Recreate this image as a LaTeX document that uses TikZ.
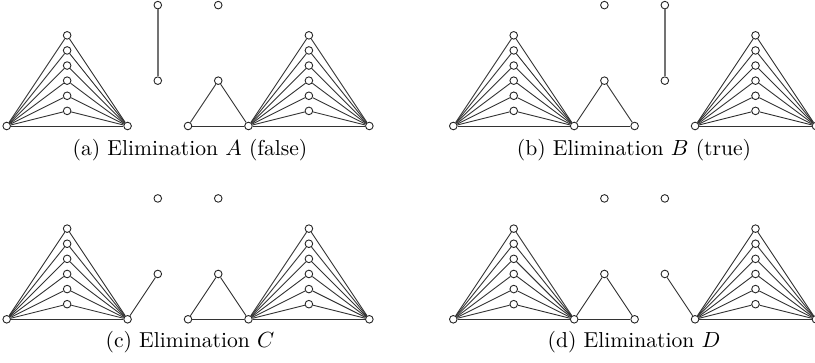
\documentclass[tikz,border=0pt]{standalone}
\usetikzlibrary{calc}
\begin{document}
\begin{tikzpicture}[x=0.5pt,y=-0.5pt,
  v/.style={circle,draw=black!85,fill=white,line width=0.45pt,inner sep=0pt,minimum size=3.8pt},
  e/.style={draw=black!80,line width=0.45pt},
  ge/.style={draw=black!55,line width=0.75pt},
  captext/.style={anchor=base,inner sep=0pt,font=\fontsize{10.8}{12}\selectfont}]
\useasboundingbox (0,0) rectangle (815,363);
\def\u{15.11}
% big triangle macro: #1 name, #2 x0, #3 y0
\newcommand\bigtri[3]{%
  \node[v] (#1l) at (#2,#3) {};
  \node[v] (#1r) at ({#2+8*\u},#3) {};
  \foreach \k in {1,...,6}{\node[v] (#1\k) at ({#2+4*\u},{#3-\k*\u}) {};}
  \draw[e] (#1l) -- (#1r);
  \foreach \k in {1,...,6}{\draw[e] (#1l) -- (#1\k) -- (#1r);}
}
% ---------- (a) ----------
\def\X{6.7}\def\Y{126}
\bigtri{aL}{\X}{\Y}
\bigtri{aR}{\X+16*\u}{\Y}
\node[v] (ap) at ({\X+10*\u},{\Y-3*\u}) {};
\node[v] (aq) at ({\X+10*\u},{\Y-8*\u}) {};
\node[v] (as) at ({\X+14*\u},{\Y-8*\u}) {};
\node[v] (at) at ({\X+14*\u},{\Y-3*\u}) {};
\node[v] (ab) at ({\X+12*\u},\Y) {};
\draw[ge] (ap) -- (aq);
\draw[e] (ab) -- (at) -- (aRl);
\draw[e] (ab) -- (aRl);
\node[captext] (capa) at (190,156) {(a) Elimination $A$ (false)};
% ---------- (b) ----------
\def\X{453.3}\def\Y{126}
\bigtri{bL}{\X}{\Y}
\bigtri{bR}{\X+16*\u}{\Y}
\node[v] (bp) at ({\X+10*\u},{\Y-3*\u}) {};
\node[v] (bq) at ({\X+10*\u},{\Y-8*\u}) {};
\node[v] (bs) at ({\X+14*\u},{\Y-8*\u}) {};
\node[v] (bt) at ({\X+14*\u},{\Y-3*\u}) {};
\node[v] (bc) at ({\X+12*\u},\Y) {};
\draw[ge] (bt) -- (bs);
\draw[e] (bLr) -- (bp) -- (bc);
\draw[e] (bLr) -- (bc);
\node[captext] (capb) at (634,156) {(b) Elimination $B$ (true)};
% ---------- (c) ----------
\def\X{6.7}\def\Y{319.3}
\bigtri{cL}{\X}{\Y}
\bigtri{cR}{\X+16*\u}{\Y}
\node[v] (cp) at ({\X+10*\u},{\Y-3*\u}) {};
\node[v] (cq) at ({\X+10*\u},{\Y-8*\u}) {};
\node[v] (cs) at ({\X+14*\u},{\Y-8*\u}) {};
\node[v] (ct) at ({\X+14*\u},{\Y-3*\u}) {};
\node[v] (cb) at ({\X+12*\u},\Y) {};
\draw[e] (cLr) -- (cp);
\draw[e] (cb) -- (ct) -- (cRl);
\draw[e] (cb) -- (cRl);
\node[captext] (capc) at (190,348) {(c) Elimination $C$};
% ---------- (d) ----------
\def\X{453.3}\def\Y{319.3}
\bigtri{dL}{\X}{\Y}
\bigtri{dR}{\X+16*\u}{\Y}
\node[v] (dp) at ({\X+10*\u},{\Y-3*\u}) {};
\node[v] (dq) at ({\X+10*\u},{\Y-8*\u}) {};
\node[v] (ds) at ({\X+14*\u},{\Y-8*\u}) {};
\node[v] (dt) at ({\X+14*\u},{\Y-3*\u}) {};
\node[v] (dc) at ({\X+12*\u},\Y) {};
\draw[e] (dt) -- (dRl);
\draw[e] (dLr) -- (dp) -- (dc);
\draw[e] (dLr) -- (dc);
\node[captext] (capd) at (634,348) {(d) Elimination $D$};
\end{tikzpicture}
\end{document}
